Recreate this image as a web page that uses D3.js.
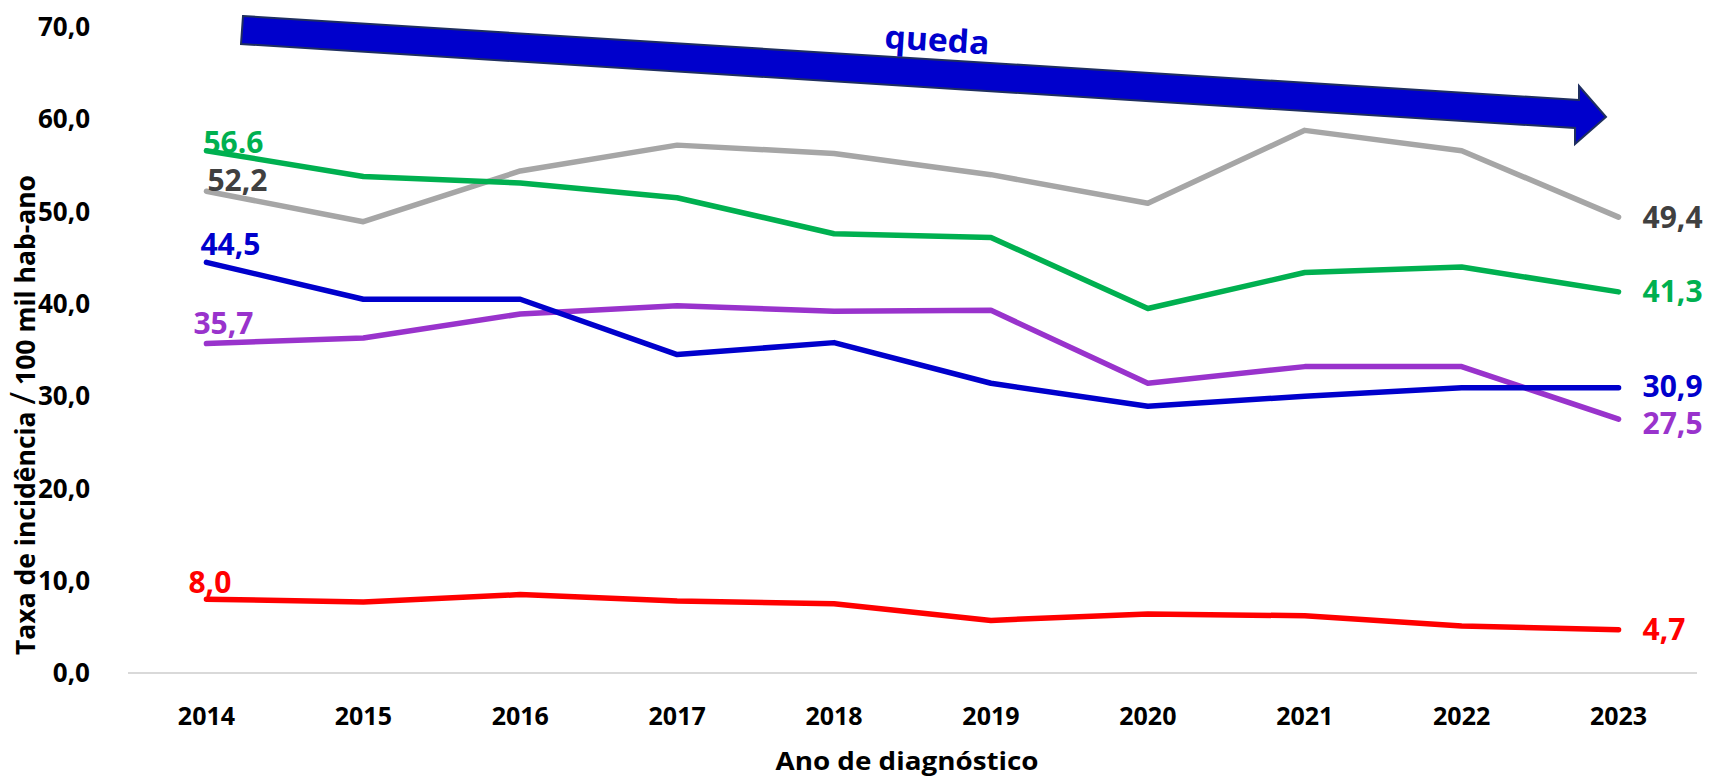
<!DOCTYPE html>
<html>
<head>
<meta charset="utf-8">
<script src="https://cdn.jsdelivr.net/npm/d3@7"></script>
<style>
  body { margin: 0; background: #fff; }
  text { font-family: "Open Sans", "Noto Sans", sans-serif; font-weight: 700; }
</style>
</head>
<body>
<div id="chart"></div>
<script>
const WIDTH = 1712;
const HEIGHT = 777;

// chart data
const years = ["2014", "2015", "2016", "2017", "2018", "2019", "2020", "2021", "2022", "2023"];
const yTicks = [0, 10, 20, 30, 40, 50, 60, 70];
const grayValues   = [52.2, 48.9, 54.4, 57.2, 56.3, 54.0, 50.9, 58.8, 56.6, 49.4];
const greenValues  = [56.6, 53.8, 53.1, 51.5, 47.6, 47.2, 39.5, 43.4, 44.0, 41.3];
const purpleValues = [35.7, 36.3, 38.9, 39.8, 39.2, 39.3, 31.4, 33.2, 33.2, 27.5];
const blueValues   = [44.5, 40.5, 40.5, 34.5, 35.8, 31.4, 28.9, 30.0, 30.9, 30.9];
const redValues    = [8.0, 7.7, 8.5, 7.8, 7.5, 5.7, 6.4, 6.2, 5.1, 4.7];

// drawing order: blue sits above purple
const series = [
  { values: grayValues,   line: "#A6A6A6", label: "#404040", sdx: 1,   sdy: 0,   edy: 0 },
  { values: greenValues,  line: "#00B050", label: "#00B050", sdx: -3,  sdy: 2,   edy: 0, sep: "." },
  { values: purpleValues, line: "#9933CC", label: "#9933CC", sdx: -13, sdy: -10, edy: 4 },
  { values: blueValues,   line: "#0000CC", label: "#0000CC", sdx: -6,  sdy: -7,  edy: -1 },
  { values: redValues,    line: "#FF0000", label: "#FF0000", sdx: -18, sdy: -6,  edy: 0 }
];

const fmt = (v, sep) => d3.format(".1f")(v).replace(".", sep || ",");

const svg = d3.select("#chart").append("svg")
  .attr("width", WIDTH)
  .attr("height", HEIGHT);

const x = d3.scaleBand().domain(years).range([128, 1697]);
const cx = d => x(d) + x.bandwidth() / 2;
const y = d3.scaleLinear().domain([0, 70]).range([673, 27]);

// y tick labels
svg.append("g")
  .selectAll("text")
  .data(yTicks)
  .enter().append("text")
  .attr("x", 90)
  .attr("y", d => y(d))
  .attr("dy", "0.35em")
  .attr("text-anchor", "end")
  .attr("font-size", 26)
  .attr("fill", "#000")
  .text(d => fmt(d));

// baseline
svg.append("line")
  .attr("x1", 128).attr("x2", 1697)
  .attr("y1", y(0)).attr("y2", y(0))
  .attr("stroke", "#D9D9D9")
  .attr("stroke-width", 2);

// year labels
svg.append("g")
  .selectAll("text")
  .data(years)
  .enter().append("text")
  .attr("x", d => cx(d))
  .attr("y", 716)
  .attr("dy", "0.35em")
  .attr("text-anchor", "middle")
  .attr("font-size", 25)
  .attr("fill", "#000")
  .text(d => d);

// axis titles
const yTitle = svg.append("text")
  .attr("transform", "translate(35,415) rotate(-90)")
  .attr("text-anchor", "middle")
  .attr("font-size", 26)
  .attr("textLength", 480)
  .attr("lengthAdjust", "spacingAndGlyphs")
  .attr("fill", "#000");
yTitle.append("tspan").text("Taxa de incidência ");
yTitle.append("tspan").attr("font-size", 34).attr("font-weight", 400).text("/");
yTitle.append("tspan").text(" 100 mil hab-ano");

svg.append("text")
  .attr("x", 907)
  .attr("y", 770)
  .attr("text-anchor", "middle")
  .attr("font-size", 25)
  .attr("textLength", 263)
  .attr("lengthAdjust", "spacingAndGlyphs")
  .attr("fill", "#000")
  .text("Ano de diagnóstico");

// lines
const line = d3.line()
  .x((d, i) => cx(years[i]))
  .y(d => y(d));

svg.append("g")
  .selectAll("path")
  .data(series)
  .enter().append("path")
  .attr("d", s => line(s.values))
  .attr("fill", "none")
  .attr("stroke", s => s.line)
  .attr("stroke-width", 5.5)
  .attr("stroke-linecap", "round")
  .attr("stroke-linejoin", "round");

// first-year labels
svg.append("g")
  .selectAll("text")
  .data(series)
  .enter().append("text")
  .attr("x", s => cx(years[0]) + s.sdx)
  .attr("y", s => y(s.values[0]) + s.sdy)
  .attr("font-size", 30)
  .attr("fill", s => s.label)
  .text(s => fmt(s.values[0], s.sep));

// last-year labels
const last = years.length - 1;
svg.append("g")
  .selectAll("text")
  .data(series)
  .enter().append("text")
  .attr("x", cx(years[last]) + 24)
  .attr("y", s => y(s.values[last]) + s.edy)
  .attr("dy", "0.35em")
  .attr("font-size", 30)
  .attr("fill", s => s.label)
  .text(s => fmt(s.values[last]));

// "queda" arrow annotation
const arrow = [[243, 16], [1579, 100], [1579, 86], [1606, 117], [1575, 144], [1575, 128], [241, 44]];
svg.append("polygon")
  .attr("points", arrow.map(p => p.join(",")).join(" "))
  .attr("fill", "#0000CC")
  .attr("stroke", "#1F2F5F")
  .attr("stroke-width", 2)
  .attr("stroke-linejoin", "miter");

svg.append("text")
  .attr("transform", "translate(937,40) rotate(3.6)")
  .attr("text-anchor", "middle")
  .attr("dy", "0.35em")
  .attr("font-size", 32)
  .attr("textLength", 105)
  .attr("lengthAdjust", "spacingAndGlyphs")
  .attr("fill", "#0000CC")
  .text("queda");
</script>
</body>
</html>
